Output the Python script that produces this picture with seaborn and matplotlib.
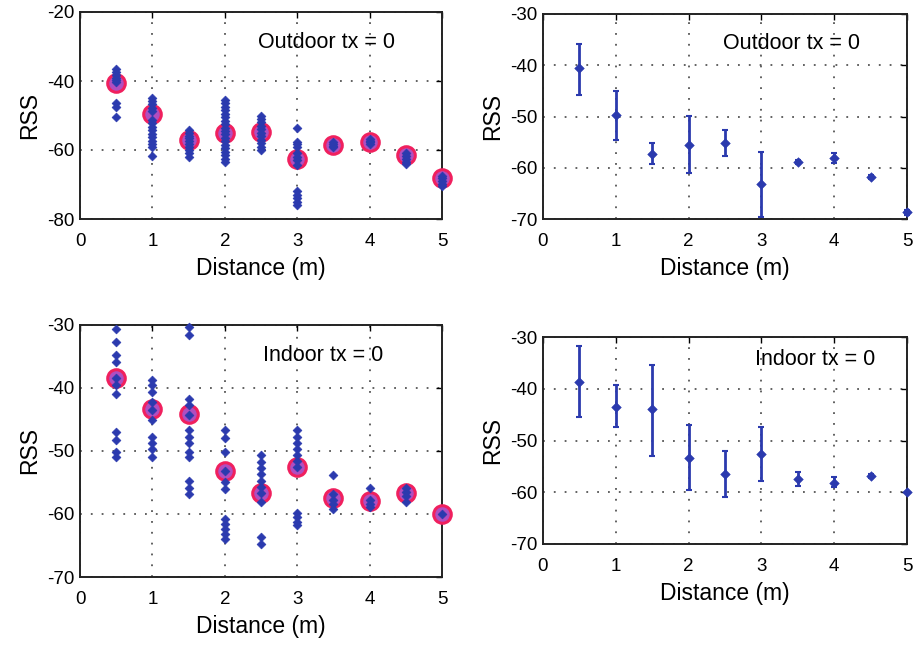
import numpy as np
import pandas as pd
import matplotlib
matplotlib.use("Agg")
import matplotlib.pyplot as plt
import seaborn as sns

sns.set_theme(style="white")
plt.rcParams['font.family'] = ['Liberation Sans', 'DejaVu Sans']
plt.rcParams['text.color'] = 'black'
plt.rcParams['axes.labelcolor'] = 'black'
plt.rcParams['xtick.color'] = 'black'
plt.rcParams['ytick.color'] = 'black'

# ---------------- data ----------------
distances = [0.5, 1.0, 1.5, 2.0, 2.5, 3.0, 3.5, 4.0, 4.5, 5.0]

# outdoor raw RSS samples per distance
out_d05 = [-36.5, -37.3, -38.2, -39.0, -39.8, -40.4, -46.5, -47.5, -50.3]
out_d10 = [-44.8, -45.8, -46.8, -47.8, -48.8, -51.3, -52.3, -53.3, -54.3, -55.3, -56.3,
           -57.3, -58.3, -59.0, -61.7]
out_d15 = [-54.2, -55.0, -55.8, -56.6, -57.4, -58.2, -59.0, -60.0, -61.0, -62.0]
out_d20 = [-45.5, -46.5, -47.5, -48.5, -49.5, -50.5, -51.5, -52.5, -53.5, -54.5, -55.5,
           -56.5, -57.5, -58.5, -59.5, -60.5, -61.5, -62.5, -63.5]
out_d25 = [-50.0, -51.0, -52.0, -53.0, -54.0, -55.0, -56.0, -57.0, -58.0, -59.0, -60.0]
out_d30 = [-53.7, -57.6, -58.3, -59.0, -61.0, -62.0, -63.0, -64.3, -72.0, -73.0, -74.0,
           -75.0, -76.0]
out_d35 = [-57.8, -58.3, -58.8, -59.2]
out_d40 = [-56.8, -57.3, -57.8, -58.3]
out_d45 = [-61.0, -61.8, -62.6, -63.4, -64.2]
out_d50 = [-67.4, -68.2, -69.0, -69.8, -70.5]
out_means = [-40.5, -49.5, -57.1, -55.2, -54.7, -62.6, -58.5, -57.6, -61.4, -68.0]

# indoor raw RSS samples per distance
in_d05 = [-30.6, -32.7, -34.8, -35.9, -38.4, -39.6, -40.9, -47.0, -48.3, -50.2, -51.0]
in_d10 = [-38.8, -39.6, -40.6, -42.2, -43.5, -45.1, -47.8, -48.8, -49.7, -51.0]
in_d15 = [-30.3, -31.6, -41.7, -42.7, -44.3, -46.7, -47.7, -48.8, -50.2, -51.0, -54.7,
          -55.8, -56.8]
in_d20 = [-46.7, -48.0, -50.2, -53.1, -55.0, -56.0, -60.8, -61.6, -62.4, -63.1, -63.9]
in_d25 = [-50.7, -51.7, -52.7, -53.7, -54.7, -55.7, -56.6, -58.1, -63.7, -64.8]
in_d30 = [-46.7, -47.7, -48.7, -49.7, -50.7, -51.6, -52.6, -59.8, -60.5, -61.2, -61.8]
in_d35 = [-53.8, -56.8, -57.8, -58.4, -59.2]
in_d40 = [-55.9, -57.8, -58.4, -58.9]
in_d45 = [-55.8, -56.5, -57.2, -58.1]
in_d50 = [-60.0]
in_means = [-38.4, -43.4, -44.2, -53.1, -56.6, -52.5, -57.5, -58.0, -56.7, -60.0]

# error-bar panels: mean, upper and lower ends
out_eb_mean = [-40.6, -49.7, -57.3, -55.5, -55.2, -63.1, -58.9, -58.1, -61.8, -68.7]
out_eb_upper = [-35.9, -45.0, -55.2, -49.9, -52.6, -57.0, -58.5, -57.1, -61.5, -68.2]
out_eb_lower = [-45.8, -54.5, -59.2, -61.0, -57.7, -69.7, -59.3, -59.0, -62.1, -69.2]

in_eb_mean = [-38.6, -43.5, -44.0, -53.4, -56.5, -52.7, -57.5, -58.2, -56.9, -60.0]
in_eb_upper = [-31.7, -39.3, -35.4, -47.0, -52.0, -47.3, -56.1, -57.1, -56.5, -60.0]
in_eb_lower = [-45.5, -47.3, -53.0, -59.5, -61.0, -57.9, -58.7, -59.0, -57.3, -60.0]

out_samples = [out_d05, out_d10, out_d15, out_d20, out_d25, out_d30, out_d35, out_d40, out_d45, out_d50]
in_samples = [in_d05, in_d10, in_d15, in_d20, in_d25, in_d30, in_d35, in_d40, in_d45, in_d50]

BLUE = '#2b3aae'
EDGE_RED = '#f0205e'
FACE_MAG = '#b04ec0'
GRID_C = '#555555'


def to_frame(samples):
    rows = []
    for d, vals in zip(distances, samples):
        for v in vals:
            rows.append((d, v))
    return pd.DataFrame(rows, columns=['dist', 'rss'])


def style_axes(ax, ylim, yticks, text, tx, ty):
    ax.set_xlim(0, 5)
    ax.set_ylim(*ylim)
    ax.set_xticks([0, 1, 2, 3, 4, 5])
    ax.set_yticks(yticks)
    ax.set_xticklabels([str(v) for v in [0, 1, 2, 3, 4, 5]])
    ax.set_yticklabels([str(v) for v in yticks])
    ax.tick_params(direction='in', length=4, width=1, top=True, right=True,
                   labelsize=13.5, colors='black', labelcolor='black', pad=4)
    ax.tick_params(axis='x', pad=10)
    for s in ax.spines.values():
        s.set_visible(True)
        s.set_color('#222222')
        s.set_linewidth(1.4)
    ax.grid(True, color=GRID_C, linestyle=(0, (1, 5)), linewidth=1.3)
    ax.set_axisbelow(True)
    ax.set_xlabel('Distance (m)', fontsize=16.5, labelpad=5, color='black')
    ax.set_ylabel('RSS', fontsize=16.5, labelpad=4, color='black')
    ax.text(tx, ty, text, fontsize=15.5, ha='left', va='center', color='black')


def scatter_panel(ax, samples, means, ylim, yticks, text, tx, ty):
    df = to_frame(samples)
    sns.scatterplot(x=distances, y=means, ax=ax, s=160, marker='o',
                    color=FACE_MAG, edgecolor=EDGE_RED, linewidth=2.2,
                    zorder=3, clip_on=False, legend=False)
    sns.scatterplot(data=df, x='dist', y='rss', ax=ax, s=20, marker='D',
                    color=BLUE, edgecolor=BLUE, linewidth=0.5, zorder=4,
                    clip_on=False, legend=False)
    style_axes(ax, ylim, yticks, text, tx, ty)


def errorbar_panel(ax, means, upper, lower, ylim, yticks, text, tx, ty):
    m = np.array(means)
    yerr = [m - np.array(lower), np.array(upper) - m]
    ax.errorbar(distances, m, yerr=yerr, fmt='none', ecolor=BLUE,
                elinewidth=2.0, capsize=2.5, capthick=1.5, zorder=3, clip_on=False)
    sns.scatterplot(x=distances, y=means, ax=ax, s=24, marker='D', color=BLUE,
                    edgecolor=BLUE, zorder=4, clip_on=False, legend=False)
    style_axes(ax, ylim, yticks, text, tx, ty)


fig = plt.figure(figsize=(9.19, 6.45), dpi=100)
W, H = 919.0, 645.0


def add_ax(l, r, t, b):
    return fig.add_axes([l / W, 1 - b / H, (r - l) / W, (b - t) / H])


ax1 = add_ax(80, 442, 12, 219)
ax2 = add_ax(543, 907, 14, 219)
ax3 = add_ax(80, 442, 325, 577)
ax4 = add_ax(543, 907, 337, 544)

scatter_panel(ax1, out_samples, out_means, (-80, -20), [-20, -40, -60, -80],
              'Outdoor tx = 0', 2.46, -28.7)
errorbar_panel(ax2, out_eb_mean, out_eb_upper, out_eb_lower, (-70, -30),
               [-30, -40, -50, -60, -70], 'Outdoor tx = 0', 2.47, -35.7)
scatter_panel(ax3, in_samples, in_means, (-70, -30), [-30, -40, -50, -60, -70],
              'Indoor tx = 0', 2.53, -34.8)
errorbar_panel(ax4, in_eb_mean, in_eb_upper, in_eb_lower, (-70, -30),
               [-30, -40, -50, -60, -70], 'Indoor tx = 0', 2.91, -34.4)

fig.savefig('out.png', dpi=100, facecolor='white')
